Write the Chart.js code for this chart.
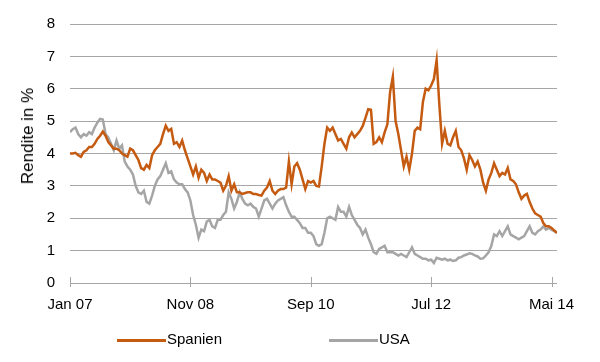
<!DOCTYPE html>
<html>
<head>
<meta charset="utf-8">
<script src="https://cdn.jsdelivr.net/npm/chart.js@4"></script>
<style>
  html, body { margin: 0; padding: 0; background: #fff; }
  #wrap { position: relative; width: 600px; height: 362px; }
  .leg { position: absolute; top: 329px; font: 15px "Liberation Sans", Arial, sans-serif; color: #000; line-height: 20px; }
  .leg span { display: inline-block; width: 49px; height: 3px; vertical-align: middle; margin-right: 1px; }
  #ytitle { position: absolute; left: 28px; top: 136px; transform: translate(-50%, -50%) rotate(-90deg);
            font: 17px "Liberation Sans", Arial, sans-serif; color: #000; white-space: nowrap; }
</style>
</head>
<body>
<div id="wrap">
  <canvas id="yieldChart" width="600" height="362"></canvas>
  <div id="ytitle">Rendite in %</div>
  <div class="leg" style="left:117px"><span style="background:#C55A11"></span>Spanien</div>
  <div class="leg" style="left:329px"><span style="background:#A5A5A5"></span>USA</div>
</div>
<script>
// half-monthly values, starting Jan 2007
const step = 0.5; // months per point
const tickPositions = [0, 22, 44, 66, 88];
const tickLabels = ['Jan 07', 'Nov 08', 'Sep 10', 'Jul 12', 'Mai 14'];

const spanien = [
  4.0, 4.0, 4.02, 3.95, 3.9, 4.05, 4.1, 4.2, 4.2, 4.3,
  4.45, 4.55, 4.68, 4.55, 4.35, 4.25, 4.15, 4.15, 4.1, 4.0,
  3.95, 3.9, 4.15, 4.1, 3.95, 3.8, 3.55, 3.5, 3.65, 3.55,
  3.95, 4.1, 4.2, 4.3, 4.6, 4.86, 4.7, 4.76, 4.3, 4.35,
  4.2, 4.4, 4.1, 3.85, 3.6, 3.35, 3.6, 3.25, 3.5, 3.4,
  3.15, 3.35, 3.2, 3.2, 3.15, 3.1, 2.85, 3.0, 3.3, 2.85,
  3.05, 2.8, 2.8, 2.75, 2.78, 2.8, 2.8, 2.75, 2.75, 2.72,
  2.7, 2.85, 2.95, 3.15, 2.85, 2.75, 2.85, 2.9, 2.9, 2.95,
  3.75, 3.05, 3.6, 3.7, 3.5, 3.2, 2.9, 3.15, 3.1, 3.15,
  3.0, 2.98, 3.6, 4.3, 4.8, 4.7, 4.8, 4.6, 4.4, 4.45,
  4.3, 4.15, 4.5, 4.65, 4.5, 4.6, 4.7, 4.85, 5.1, 5.37,
  5.35, 4.3, 4.35, 4.5, 4.35, 4.65, 4.9, 5.9, 6.37, 5.0,
  4.6, 4.1, 3.6, 3.9, 3.5, 4.0, 4.7, 4.8, 4.75, 5.6,
  6.0, 5.95, 6.1, 6.3, 6.88, 5.5, 4.3, 4.7, 4.3, 4.25,
  4.5, 4.7, 4.2, 4.1, 3.85, 3.5, 3.95, 3.8, 3.6, 3.75,
  3.5, 3.1, 2.85, 3.2, 3.4, 3.7, 3.5, 3.3, 3.4, 3.35,
  3.55, 3.2, 3.15, 3.05, 2.8, 2.6, 2.7, 2.75, 2.5, 2.3,
  2.15, 2.1, 2.05, 1.85, 1.75, 1.75, 1.7, 1.62, 1.55
];

const usa = [
  4.66, 4.75, 4.8, 4.6, 4.5, 4.6, 4.55, 4.66, 4.6, 4.8,
  4.95, 5.07, 5.05, 4.6, 4.5, 4.3, 4.1, 4.4, 4.15, 4.25,
  3.75, 3.6, 3.5, 3.35, 3.0, 2.8, 2.75, 2.85, 2.5, 2.45,
  2.7, 3.0, 3.2, 3.3, 3.5, 3.7, 3.4, 3.45, 3.2, 3.1,
  3.05, 3.05, 2.9, 2.8, 2.55, 2.1, 1.8, 1.4, 1.65, 1.6,
  1.9, 1.95, 1.75, 1.7, 1.95, 1.95, 2.1, 2.2, 2.8, 2.6,
  2.3, 2.5, 2.8, 2.6, 2.45, 2.4, 2.45, 2.35, 2.3, 2.05,
  2.3, 2.55, 2.6, 2.45, 2.3, 2.45, 2.55, 2.6, 2.65, 2.4,
  2.2, 2.05, 2.05, 1.95, 1.85, 1.7, 1.7, 1.55, 1.55, 1.45,
  1.2, 1.15, 1.2, 1.55, 2.0, 2.05, 2.0, 1.95, 2.35, 2.2,
  2.2, 2.05, 2.35, 2.1, 1.95, 1.8, 1.7, 1.5, 1.65, 1.4,
  1.2, 0.95, 0.9, 1.05, 1.1, 1.15, 0.95, 0.95, 0.95, 0.9,
  0.85, 0.9, 0.85, 0.8, 0.95, 1.1, 0.9, 0.85, 0.8, 0.75,
  0.75, 0.7, 0.72, 0.62, 0.78, 0.75, 0.72, 0.75, 0.7, 0.72,
  0.68, 0.7, 0.78, 0.8, 0.85, 0.88, 0.92, 0.9, 0.85, 0.82,
  0.75, 0.76, 0.85, 0.95, 1.15, 1.5, 1.45, 1.6, 1.45, 1.6,
  1.75, 1.5, 1.45, 1.4, 1.35, 1.4, 1.45, 1.6, 1.75, 1.55,
  1.5, 1.6, 1.65, 1.75, 1.65, 1.7, 1.65, 1.6, 1.55
];

const font = { family: '"Liberation Sans", Arial, sans-serif', size: 15 };

// small tick marks crossing the x axis
const crossTicks = {
  id: 'crossTicks',
  beforeDatasetsDraw(chart) {
    const ctx = chart.ctx;
    const x = chart.scales.x;
    const y0 = chart.scales.y.getPixelForValue(0);
    ctx.save();
    ctx.strokeStyle = '#A6A6A6';
    ctx.lineWidth = 1;
    x.ticks.forEach(t => {
      const px = Math.round(x.getPixelForValue(t.value)) + 0.5;
      ctx.beginPath();
      ctx.moveTo(px, y0 - 6);
      ctx.lineTo(px, y0 + 4);
      ctx.stroke();
    });
    ctx.restore();
  }
};

const yieldChart = document.getElementById('yieldChart');
new Chart(yieldChart, {
  type: 'line',
  data: {
    datasets: [{
      label: 'Spanien',
      data: spanien.map((v, i) => ({ x: i * step, y: v })),
      borderColor: '#C55A11',
      borderWidth: 2.5,
      pointRadius: 0,
      tension: 0
    }, {
      label: 'USA',
      data: usa.map((v, i) => ({ x: i * step, y: v })),
      borderColor: '#A5A5A5',
      borderWidth: 2.5,
      pointRadius: 0,
      tension: 0
    }]
  },
  options: {
    responsive: false,
    animation: false,
    layout: { padding: { left: 0, right: 43, top: 18, bottom: 0 } },
    plugins: {
      legend: { display: false },
      tooltip: { enabled: false }
    },
    scales: {
      x: {
        type: 'linear',
        min: 0,
        max: 89,
        afterBuildTicks: s => { s.ticks = tickPositions.map(v => ({ value: v })); },
        afterFit: s => { s.height = 79; },
        grid: { display: false, drawTicks: false },
        border: { display: false },
        ticks: {
          padding: 13,
          color: '#000',
          font: font,
          maxRotation: 0,
          callback: v => tickLabels[tickPositions.indexOf(v)]
        }
      },
      y: {
        min: 0,
        max: 8,
        afterFit: s => { s.width = 70; },
        grid: { color: '#A6A6A6', lineWidth: 1, drawTicks: false },
        border: { display: false },
        ticks: { stepSize: 1, padding: 15, color: '#000', font: font }
      }
    }
  },
  plugins: [crossTicks]
});
</script>
</body>
</html>
